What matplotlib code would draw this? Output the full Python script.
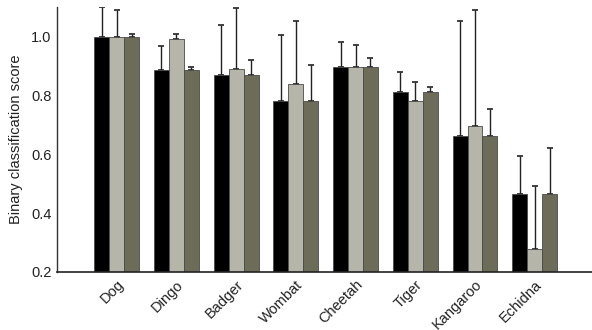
import matplotlib.pyplot as plt
import numpy as np

categories = ['Dog', 'Dingo', 'Badger', 'Wombat', 'Cheetah', 'Tiger', 'Kangaroo', 'Echidna']

# three series (black, light grey, dark olive)
s1 = [1.0, 0.886, 0.871, 0.782, 0.897, 0.813, 0.662, 0.466]
s2 = [1.0, 0.994, 0.892, 0.838, 0.897, 0.781, 0.695, 0.278]
s3 = [1.0, 0.886, 0.871, 0.782, 0.897, 0.813, 0.662, 0.466]

# upper error bar ends
s1_top = [1.102, 0.969, 1.039, 1.007, 0.982, 0.881, 1.053, 0.595]
s2_top = [1.092, 1.009, 1.099, 1.054, 0.971, 0.845, 1.092, 0.493]
s3_top = [1.009, 0.897, 0.922, 0.906, 0.929, 0.830, 0.753, 0.623]

colors = ['#000000', '#b5b6a9', '#6c6c59']

plt.rcParams['font.family'] = ['Liberation Sans', 'DejaVu Sans']

fig = plt.figure(figsize=(5.92, 3.3), dpi=100)
ax = fig.add_axes([0.0963, 0.176, 0.9037, 0.803])

x = np.arange(len(categories))
w = 0.25
for i, (vals, tops) in enumerate([(s1, s1_top), (s2, s2_top), (s3, s3_top)]):
    vals = np.array(vals)
    err = np.array(tops) - vals
    ax.bar(x + (i - 1) * w, vals - 0.2, w, bottom=0.2, color=colors[i],
           edgecolor='#4a4a4a', linewidth=0.6, zorder=2)
    ax.errorbar(x + (i - 1) * w, vals, yerr=[np.zeros_like(err), err],
                fmt='none', ecolor='#222222', elinewidth=1, capsize=2.3,
                capthick=1.2, zorder=1)

ax.set_xlim(-1.0, 7.96)
ax.set_ylim(0.2, 1.102)
ax.set_yticks([0.2, 0.4, 0.6, 0.8, 1.0])
ax.set_yticklabels(['0.2', '0.4', '0.6', '0.8', '1.0'])
ax.set_xticks(x)
ax.set_xticklabels(categories, rotation=45, ha='right', rotation_mode='anchor')
ax.tick_params(axis='both', length=0, labelsize=10.5, colors='#222222', pad=4)
ax.set_ylabel('Binary classification score', fontsize=10.5, color='#222222', labelpad=6)

for s in ['top', 'right']:
    ax.spines[s].set_visible(False)
ax.spines['left'].set_color('#333333')
ax.spines['bottom'].set_color('#222222')
ax.spines['left'].set_linewidth(1)
ax.spines['bottom'].set_linewidth(1.2)

fig.savefig('out.png', dpi=100)
